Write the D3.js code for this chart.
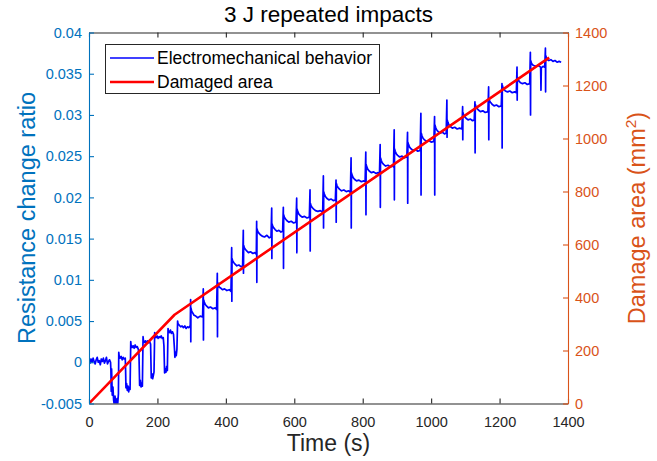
<!DOCTYPE html>
<html><head><meta charset="utf-8">
<script src="https://cdn.jsdelivr.net/npm/d3@7"></script>
<style>body{margin:0;background:#fff}</style>
</head><body>
<svg id="chart" width="657" height="461"></svg>
<script>
const titleText = "3 J repeated impacts";
const xLabelText = "Time (s)";
const yLeftLabelText = "Resistance change ratio";
const yRightLabelText = "Damage area (mm";
const yRightLabelSup = "2";
const legendLabels = ["Electromechanical behavior", "Damaged area"];
const xTicks = [0, 200, 400, 600, 800, 1000, 1200, 1400];
const yLeftTicks = [-0.005, 0, 0.005, 0.01, 0.015, 0.02, 0.025, 0.03, 0.035, 0.04];
const yRightTicks = [0, 200, 400, 600, 800, 1000, 1200, 1400];

const damageTime = [0, 250, 1345];
const damageArea = [0, 335, 1305];

const electroTime = [
  0,3,6,9,12,15,18,21,24,27,30,33,36,39,42,45,48,51,54,57,60,63,
  64,65,66,68,70,72,74,76,78,80,82,84,86,
  87,88,91,94,97,100,103,106,
  107,108,110,112,114,116,118,120,
  122,123,126,129,132,135,138,141,144,
  146,148,150,152,154,156,
  158,159,162,165,168,171,174,177,180,
  182,184,186,188,190,
  192,193,196,199,202,205,208,211,214,217,
  219,221,223,225,227,229,
  231,232,235,238,241,244,247,
  250,251,253,255,257,
  259,260,264,268,272,276,280,284,288,292,295,
  296,297,297.5,298,300,303,307,312,318,325,332,
  334,334.5,335,337,340,344,349,355,362,369,373,
  375,375.5,376,378,381,385,390,396,403,410,415,
  417,417.5,418,420,423,427,432,438,444,449,
  451,451.5,452,454,457,461,466,472,479,485,489,
  490,490.5,491,493,496,500,506,513,520,527,532,
  534,534.5,535,537,540,544,549,555,561,566,
  568,568.5,569,571,574,578,584,591,598,605,
  607,607.5,608,610,613,617,623,630,637,644,
  646,646.5,647,649,652,656,662,669,676,683,
  685,685.5,686,688,691,695,701,708,714,720,
  722,722.5,723,725,728,732,738,745,752,759,764,
  766,766.5,767,769,772,776,782,789,796,803,807,
  809,809.5,810,812,815,819,825,832,839,845,849,
  851,851.5,852,854,857,861,867,874,881,887,890,
  892,892.5,893,895,898,902,908,915,922,929,
  931,931.5,932,934,937,941,947,954,961,968,
  970,970.5,971,973,976,980,986,993,1000,1008,
  1010,1010.5,1011,1013,1016,1020,1026,1033,1039,1044,
  1046,1046.5,1047,1049,1052,1056,1062,1069,1076,1083,1090,
  1092,1092.5,1093,1095,1098,1102,1108,1115,1121,1126,
  1128,1128.5,1129,1131,1134,1138,1144,1151,1158,1166,
  1168,1168.5,1169,1171,1174,1178,1184,1191,1198,1205,
  1207,1207.5,1208,1210,1213,1217,1223,1230,1237,1244,1249,
  1251,1251.5,1252,1254,1257,1261,1267,1274,1281,1288,
  1290,1290.5,1291,1293,1296,1300,1306,1313,1320,1321,1322,1327,1332,
  1334,1334.5,1335,1337,1340,1344,1350,1356,1362,1368,1374,1380
];
const electroRatio = [
  0.0003,-0.0001,0.0004,0.0000,0.0005,0.0001,-0.0002,0.0003,0.0006,0.0000,0.0002,-0.0003,0.0004,0.0001,0.0005,-0.0001,0.0002,0.0006,-0.0002,0.0001,0.0003,0.0000,
  -0.0010,-0.0035,-0.0008,-0.0040,-0.0030,-0.0046,-0.0052,-0.0041,-0.0049,-0.0055,-0.0044,-0.0050,-0.0038,
  0.0012,0.0008,0.0005,0.0007,0.0003,0.0006,0.0004,0.0005,
  -0.0010,-0.0031,-0.0026,-0.0034,-0.0029,-0.0036,-0.0030,-0.0033,
  0.0025,0.0021,0.0018,0.0020,0.0017,0.0021,0.0018,0.0019,0.0016,
  0.0010,-0.0028,-0.0022,-0.0030,-0.0025,-0.0029,
  0.0031,0.0027,0.0024,0.0026,0.0023,0.0026,0.0024,0.0025,0.0022,
  -0.0019,-0.0014,-0.0020,-0.0016,-0.0012,
  0.0036,0.0032,0.0030,0.0032,0.0029,0.0031,0.0030,0.0032,0.0029,0.0030,
  0.0020,-0.0013,-0.0008,-0.0012,-0.0005,-0.0010,
  0.0041,0.0038,0.0036,0.0039,0.0035,0.0037,0.0034,
  0.0015,0.0006,0.0012,0.0008,0.0016,
  0.0050,0.0047,0.0045,0.0043,0.0044,0.0042,0.0044,0.0041,0.0043,0.0042,0.0044,
  0.0043,0.0076,0.0025,0.0066,0.0062,0.0060,0.0057,0.0056,0.0054,0.0056,0.0055,
  0.0089,0.0027,0.0076,0.0073,0.0070,0.0068,0.0066,0.0067,0.0065,0.0066,0.0064,
  0.0108,0.0031,0.0097,0.0094,0.0091,0.0090,0.0088,0.0089,0.0087,0.0088,0.0086,
  0.0139,0.0074,0.0126,0.0123,0.0121,0.0119,0.0117,0.0118,0.0116,0.0117,
  0.0160,0.0108,0.0142,0.0139,0.0137,0.0135,0.0133,0.0134,0.0132,0.0133,0.0131,
  0.0171,0.0097,0.0162,0.0159,0.0157,0.0155,0.0153,0.0152,0.0154,0.0151,0.0152,
  0.0187,0.0126,0.0168,0.0165,0.0163,0.0161,0.0159,0.0160,0.0158,0.0159,
  0.0188,0.0114,0.0179,0.0176,0.0174,0.0172,0.0170,0.0171,0.0169,0.0170,
  0.0199,0.0133,0.0186,0.0183,0.0180,0.0178,0.0176,0.0177,0.0175,0.0176,
  0.0209,0.0135,0.0193,0.0190,0.0188,0.0186,0.0184,0.0183,0.0184,0.0182,
  0.0226,0.0163,0.0207,0.0204,0.0201,0.0199,0.0197,0.0198,0.0196,0.0197,
  0.0221,0.0170,0.0217,0.0214,0.0212,0.0210,0.0208,0.0209,0.0207,0.0208,0.0206,
  0.0248,0.0163,0.0230,0.0227,0.0224,0.0222,0.0220,0.0221,0.0219,0.0220,0.0219,
  0.0255,0.0179,0.0240,0.0237,0.0234,0.0232,0.0230,0.0231,0.0229,0.0230,0.0229,
  0.0264,0.0188,0.0248,0.0245,0.0242,0.0240,0.0238,0.0239,0.0237,0.0238,0.0237,
  0.0282,0.0197,0.0259,0.0256,0.0253,0.0251,0.0249,0.0250,0.0248,0.0249,
  0.0279,0.0193,0.0267,0.0264,0.0261,0.0259,0.0257,0.0258,0.0256,0.0257,
  0.0302,0.0203,0.0278,0.0275,0.0272,0.0270,0.0268,0.0269,0.0267,0.0268,
  0.0298,0.0203,0.0288,0.0285,0.0282,0.0280,0.0278,0.0279,0.0277,0.0278,
  0.0318,0.0273,0.0294,0.0291,0.0288,0.0286,0.0284,0.0285,0.0283,0.0284,0.0283,
  0.0310,0.0270,0.0303,0.0300,0.0298,0.0296,0.0294,0.0295,0.0293,0.0294,
  0.0316,0.0254,0.0313,0.0310,0.0308,0.0306,0.0304,0.0305,0.0303,0.0304,
  0.0334,0.0270,0.0320,0.0317,0.0315,0.0313,0.0311,0.0312,0.0310,0.0311,
  0.0338,0.0260,0.0336,0.0333,0.0331,0.0329,0.0328,0.0329,0.0327,0.0328,0.0327,
  0.0358,0.0318,0.0346,0.0343,0.0341,0.0339,0.0338,0.0339,0.0337,0.0338,
  0.0376,0.0300,0.0366,0.0363,0.0361,0.0360,0.0359,0.0360,0.0358,0.0330,0.0357,0.0359,0.0358,
  0.0381,0.0328,0.0372,0.0369,0.0367,0.0366,0.0367,0.0365,0.0366,0.0364,0.0365,0.0364
];

const W = 657, H = 461;
const plot = {left: 89, right: 568, top: 32.5, bottom: 403.5};
const FONT = "'Liberation Sans', Arial, Helvetica, sans-serif";
const AX = "#262626", BLUE_AX = "#0072BD", ORANGE_AX = "#D95319";

const svg = d3.select("#chart");
svg.append("rect").attr("width", W).attr("height", H).attr("fill", "#fff");

const x = d3.scaleLinear().domain([0, 1400]).range([plot.left, plot.right]);
const yL = d3.scaleLinear().domain([-0.005, 0.04]).range([plot.bottom, plot.top]);
const yR = d3.scaleLinear().domain([0, 1400]).range([plot.bottom, plot.top]);

svg.append("defs").append("clipPath").attr("id", "clip")
  .append("rect").attr("x", plot.left).attr("y", plot.top)
  .attr("width", plot.right - plot.left).attr("height", plot.bottom - plot.top);

const fmtL = d => d === 0 ? "0" : String(+d.toFixed(3));
const fmtInt = d3.format("d");

const n = Math.min(electroTime.length, electroRatio.length);
const electro = d3.range(n).map(i => [electroTime[i], electroRatio[i]]);
const damage = damageTime.map((t, i) => [t, damageArea[i]]);

const g = svg.append("g").attr("clip-path", "url(#clip)");
g.append("path").datum(electro)
  .attr("d", d3.line().x(d => x(d[0])).y(d => yL(d[1])))
  .attr("fill", "none").attr("stroke", "#0000FF").attr("stroke-width", 1.7)
  .attr("stroke-linejoin", "round");
g.append("path").datum(damage)
  .attr("d", d3.line().x(d => x(d[0])).y(d => yR(d[1])))
  .attr("fill", "none").attr("stroke", "#FF0000").attr("stroke-width", 2.6)
  .attr("stroke-linejoin", "round");

function styleAxis(sel, color, fs) {
  sel.attr("font-family", FONT).attr("font-size", fs);
  sel.selectAll("path.domain").attr("stroke", color).attr("stroke-width", 1.1);
  sel.selectAll(".tick line").attr("stroke", color).attr("stroke-width", 1.1);
  sel.selectAll(".tick text").attr("fill", color);
}

const topAx = svg.append("g").attr("transform", `translate(0,${plot.top})`)
  .call(d3.axisTop(x).tickValues(xTicks).tickSizeInner(-5).tickSizeOuter(0).tickFormat(""));
styleAxis(topAx, AX, 14);

const botAx = svg.append("g").attr("transform", `translate(0,${plot.bottom})`)
  .call(d3.axisBottom(x).tickValues(xTicks).tickSizeInner(-5).tickSizeOuter(0).tickPadding(13).tickFormat(fmtInt));
styleAxis(botAx, AX, 14.5);

const leftAx = svg.append("g").attr("transform", `translate(${plot.left},0)`)
  .call(d3.axisLeft(yL).tickValues(yLeftTicks).tickSizeInner(-5).tickSizeOuter(0).tickPadding(7).tickFormat(fmtL));
styleAxis(leftAx, BLUE_AX, 14.5);

const rightAx = svg.append("g").attr("transform", `translate(${plot.right},0)`)
  .call(d3.axisRight(yR).tickValues(yRightTicks).tickSizeInner(-5).tickSizeOuter(0).tickPadding(7).tickFormat(fmtInt));
styleAxis(rightAx, ORANGE_AX, 14.5);

svg.append("text").attr("x", (plot.left + plot.right) / 2).attr("y", 22)
  .attr("text-anchor", "middle").attr("font-family", FONT).attr("font-size", 22.5)
  .attr("fill", "#000").text(titleText);

svg.append("text").attr("x", (plot.left + plot.right) / 2).attr("y", 451)
  .attr("text-anchor", "middle").attr("font-family", FONT).attr("font-size", 23)
  .attr("fill", AX).text(xLabelText);

svg.append("text").attr("transform", `translate(35,${(plot.top + plot.bottom) / 2}) rotate(-90)`)
  .attr("text-anchor", "middle").attr("font-family", FONT).attr("font-size", 23.5)
  .attr("fill", BLUE_AX).text(yLeftLabelText);

const rl = svg.append("text").attr("transform", `translate(645,${(plot.top + plot.bottom) / 2}) rotate(-90)`)
  .attr("text-anchor", "middle").attr("font-family", FONT).attr("font-size", 23.5)
  .attr("fill", ORANGE_AX);
rl.append("tspan").text(yRightLabelText);
rl.append("tspan").attr("font-size", 15.5).attr("dy", -9).text(yRightLabelSup);
rl.append("tspan").attr("dy", 9).text(")");

const lg = svg.append("g");
lg.append("rect").attr("x", 105.5).attr("y", 44.5).attr("width", 274).attr("height", 49)
  .attr("fill", "#fff").attr("stroke", AX).attr("stroke-width", 1);
const legendColors = ["#0000FF", "#FF0000"];
const legendWidths = [1.4, 2.6];
legendLabels.forEach((lab, i) => {
  const yy = 58 + i * 24;
  lg.append("line").attr("x1", 110).attr("x2", 154).attr("y1", yy).attr("y2", yy)
    .attr("stroke", legendColors[i]).attr("stroke-width", legendWidths[i]);
  lg.append("text").attr("x", 157).attr("y", yy + 6).attr("font-family", FONT)
    .attr("font-size", 17.5).attr("fill", "#000").text(lab);
});
</script>
</body></html>
